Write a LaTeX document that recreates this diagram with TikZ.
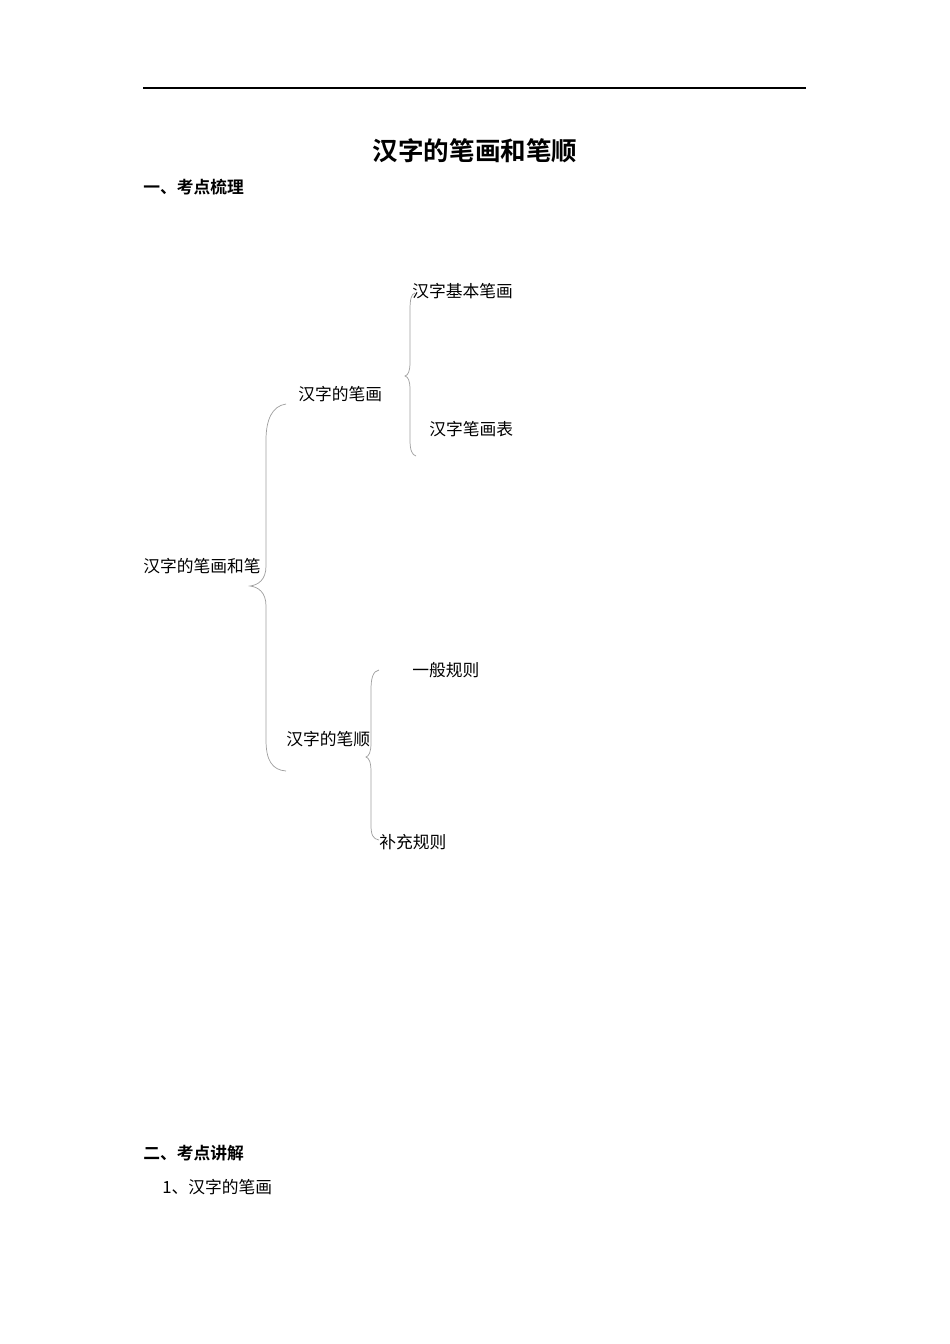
\documentclass[tikz,border=0pt]{standalone}
\usepackage{fontspec}
\setmainfont{Noto Sans CJK SC}[BoldFont={Noto Sans CJK SC Bold}]
\usepackage{tkz-euclide}

\tikzset{
  txt/.style={anchor=west,inner sep=0pt,font=\fontsize{10.5pt}{12pt}\selectfont},
  head/.style={txt,font=\fontsize{10.5pt}{12pt}\selectfont\bfseries},
  brace/.style={draw=gray!75,line width=0.45pt}
}

\begin{document}
\begin{tikzpicture}[x=0.6263pt,y=-0.6263pt]
    \useasboundingbox (0,0) rectangle (950,1344);
    \tkzDefPoints{143/88/L, 806/88/R}
    \draw[line width=0.9pt] (L) -- (R);
    \node[inner sep=0pt,font=\fontsize{16pt}{18pt}\selectfont\bfseries] (title) at (475,151) {汉字的笔画和笔顺};
    \node[head] (sec1) at (143,187) {一、考点梳理};
    % tree
    \node[txt] (root) at (143,566) {汉字的笔画和笔};
    \node[txt] (bh) at (298,394) {汉字的笔画};
    \node[txt] (jbbh) at (412,291) {汉字基本笔画};
    \node[txt] (bhb) at (429,429) {汉字笔画表};
    \node[txt] (bs) at (286,739) {汉字的笔顺};
    \node[txt] (ybgz) at (412,670) {一般规则};
    \node[txt] (bcgz) at (379,842) {补充规则};
    % braces
    \tkzDefPoints{286/404/A, 250/586/B, 286/771/C}
    \draw[brace] (A) .. controls (272,406) and (266,420) .. (266,440) -- (266,566)
        .. controls (266,580) and (258,585) .. (B)
        .. controls (258,587) and (266,592) .. (266,606) -- (266,740)
        .. controls (266,760) and (272,770) .. (C);
    \tkzDefPoints{415/293/D, 405/376/E, 416/456/F}
    \draw[brace] (D) .. controls (411,294) and (410,300) .. (410,310) -- (410,362)
        .. controls (410,372) and (408,375) .. (E)
        .. controls (408,377) and (410,380) .. (410,390) -- (410,440)
        .. controls (410,450) and (412,455) .. (F);
    \tkzDefPoints{379/670/G, 366/757/H, 379/840/I}
    \draw[brace] (G) .. controls (373,671) and (371,678) .. (371,690) -- (371,743)
        .. controls (371,752) and (369,756) .. (H)
        .. controls (369,758) and (371,762) .. (371,772) -- (371,825)
        .. controls (371,835) and (373,839) .. (I);
    \node[head] (sec2) at (143,1153) {二、考点讲解};
    \node[txt] (item1) at (162,1187) {1、汉字的笔画};
\end{tikzpicture}
\end{document}
